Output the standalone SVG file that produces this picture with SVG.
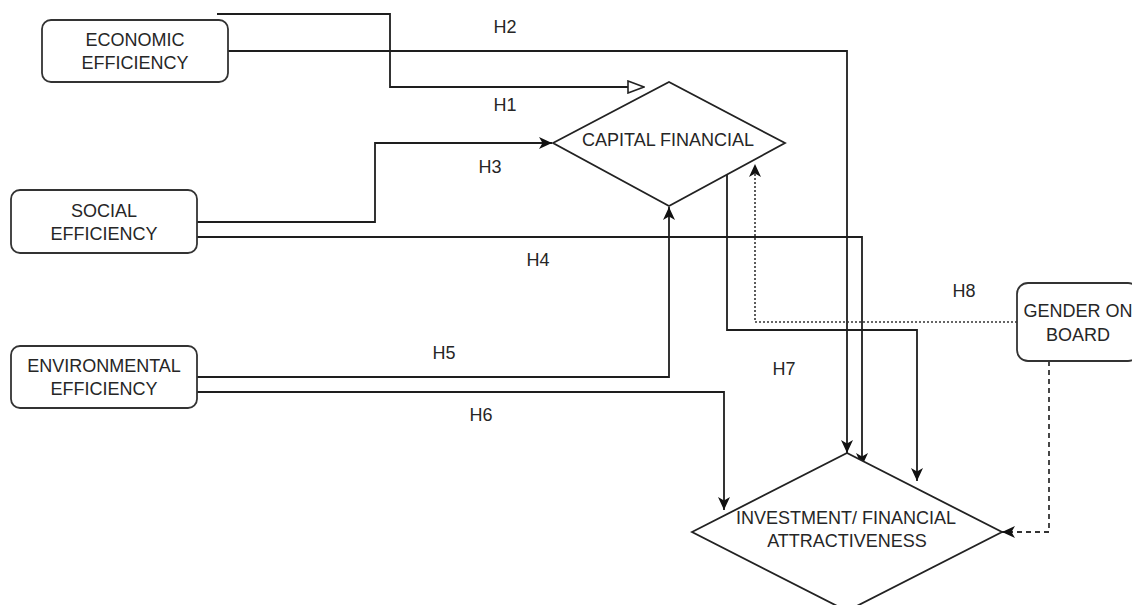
<svg xmlns="http://www.w3.org/2000/svg" width="1132" height="605" viewBox="0 0 1132 605">
<style>
text{font-family:"Liberation Sans",Arial,sans-serif;font-size:18px;fill:#262626;text-anchor:middle}
.box{fill:#fff;stroke:#333;stroke-width:1.8}
.dia{fill:#fff;stroke:#222;stroke-width:1.8}
.ln{fill:none;stroke:#1e1e1e;stroke-width:1.8}
.dot{fill:none;stroke:#333;stroke-width:1.6;stroke-dasharray:2 2}
.dash{fill:none;stroke:#333;stroke-width:1.8;stroke-dasharray:5 4}
</style>
<defs>
<marker id="arr" markerUnits="userSpaceOnUse" markerWidth="15" markerHeight="14" viewBox="0 0 15 14" refX="14" refY="7" orient="auto">
<path d="M1,1 L14,7 L1,13 L4.5,7 z" fill="#111"/>
</marker>
<marker id="open" markerUnits="userSpaceOnUse" markerWidth="18" markerHeight="14" viewBox="0 0 18 14" refX="17" refY="7" orient="auto">
<path d="M1,1 L17,7 L1,13 z" fill="#fff" stroke="#222" stroke-width="1.6"/>
</marker>
</defs>
<g id="connectors">
<path class="ln" d="M217,14 H390 V87 H644" marker-end="url(#open)"/>
<path class="ln" d="M228,51 H847 V453" marker-end="url(#arr)"/>
<path class="ln" d="M197,222 H375 V143 H552" marker-end="url(#arr)"/>
<path class="ln" d="M197,237 H862 V466" marker-end="url(#arr)"/>
<path class="ln" d="M197,377 H669 V207" marker-end="url(#arr)"/>
<path class="ln" d="M197,392 H724 V510" marker-end="url(#arr)"/>
<path class="ln" d="M727,174 V330 H917 V481" marker-end="url(#arr)"/>
<path class="dot" d="M1017,322 H755 V164" marker-end="url(#arr)"/>
<path class="dash" d="M1049,361 V532 H1002" marker-end="url(#arr)"/>
<text x="505" y="111">H1</text>
<text x="505" y="33">H2</text>
<text x="490" y="173">H3</text>
<text x="538" y="266">H4</text>
<text x="444" y="359">H5</text>
<text x="481" y="421">H6</text>
<text x="784" y="375">H7</text>
<text x="964" y="297">H8</text>
</g>
<g id="economic">
<rect class="box" x="42" y="20" width="186" height="62" rx="9"/>
<text x="135" y="46">ECONOMIC</text>
<text x="135" y="69">EFFICIENCY</text>
</g>
<g id="social">
<rect class="box" x="11" y="190" width="186" height="63" rx="9"/>
<text x="104" y="217">SOCIAL</text>
<text x="104" y="240">EFFICIENCY</text>
</g>
<g id="environmental">
<rect class="box" x="11" y="346" width="186" height="62" rx="9"/>
<text x="104" y="372">ENVIRONMENTAL</text>
<text x="104" y="395">EFFICIENCY</text>
</g>
<g id="capital">
<path class="dia" d="M553,143 L669,82 L785,143 L669,206 z"/>
<text x="668" y="146">CAPITAL FINANCIAL</text>
</g>
<g id="gender">
<rect class="box" x="1017" y="283" width="122" height="78" rx="11"/>
<text x="1078" y="317">GENDER ON</text>
<text x="1078" y="341">BOARD</text>
</g>
<g id="investment">
<path class="dia" d="M692,532 L847,453 L1002,532 L847,611 z"/>
<text x="846" y="524">INVESTMENT/ FINANCIAL</text>
<text x="847" y="547">ATTRACTIVENESS</text>
</g>
</svg>
